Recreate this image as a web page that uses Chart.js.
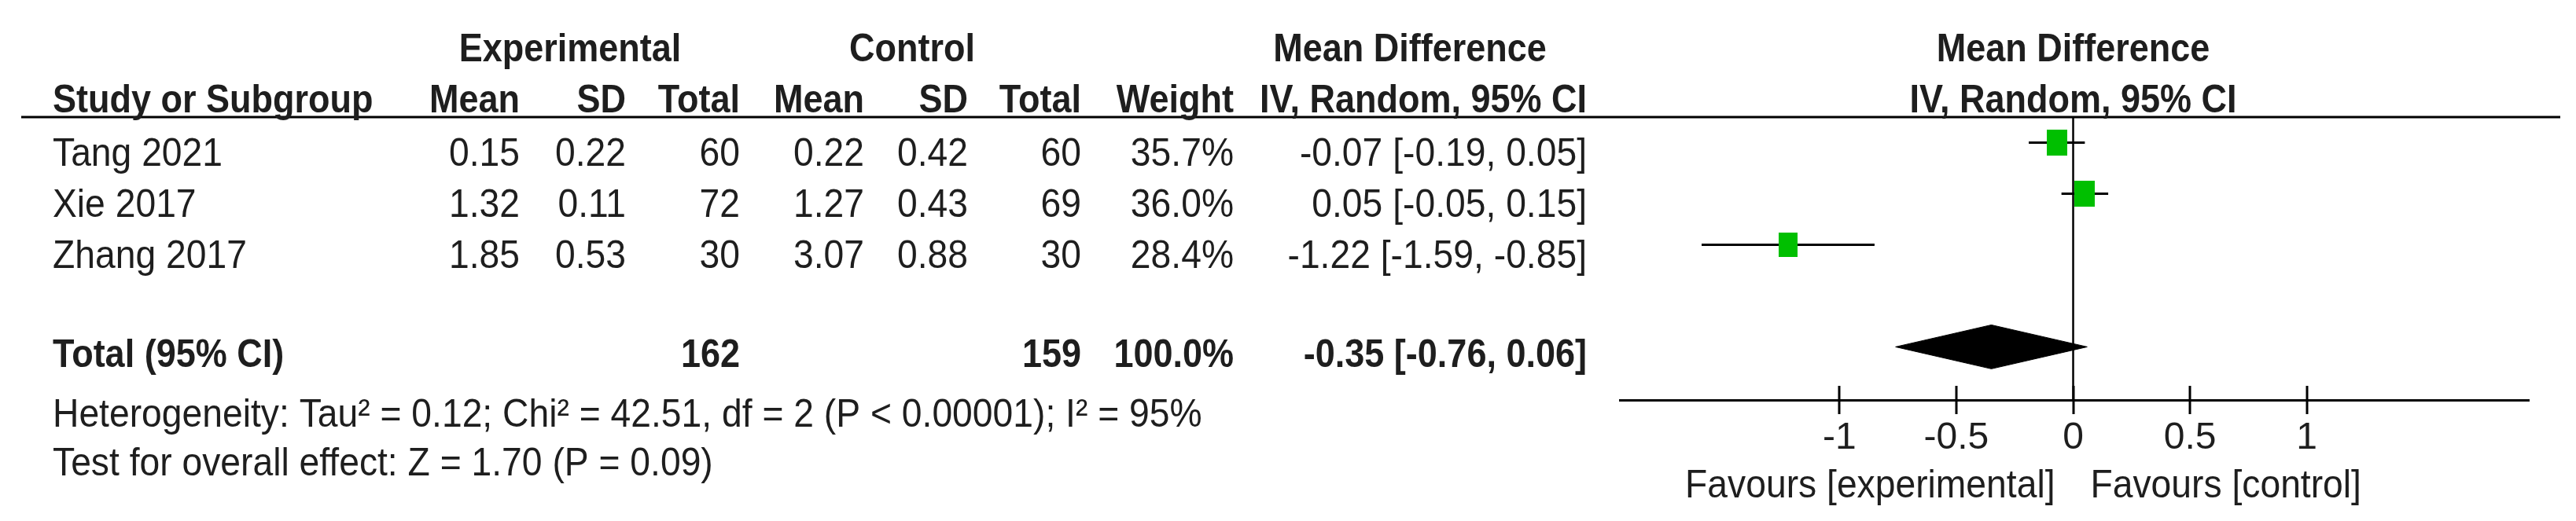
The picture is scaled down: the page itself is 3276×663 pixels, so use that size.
<!DOCTYPE html>
<html>
<head>
<meta charset="utf-8">
<title>Forest plot</title>
<script src="https://cdn.jsdelivr.net/npm/chart.js@4.4.1/dist/chart.umd.min.js"></script>
<style>
    html, body { margin: 0; padding: 0; background: #fff; }
    #wrap { position: relative; width: 3276px; height: 663px; }
</style>
</head>
<body>
<div id="wrap"><canvas id="grafico"></canvas></div>
<script>
// dados dos estudos
const studies = ['Tang 2021', 'Xie 2017', 'Zhang 2017'];
const expMean = [0.15, 1.32, 1.85];
const expSD = [0.22, 0.11, 0.53];
const expTotal = [60, 72, 30];
const ctlMean = [0.22, 1.27, 3.07];
const ctlSD = [0.42, 0.43, 0.88];
const ctlTotal = [60, 69, 30];
const weights = [35.7, 36.0, 28.4];
const meanDiff = [-0.07, 0.05, -1.22];
const ciLow = [-0.19, -0.05, -1.59];
const ciHigh = [0.05, 0.15, -0.85];
const rows = [1, 2, 3];

// linha do total
const totalRow = 5;
const totalExp = 162;
const totalCtl = 159;
const totalWeight = 100.0;
const pooled = -0.35;
const pooledLow = -0.76;
const pooledHigh = 0.06;

const heterogeneity = 'Heterogeneity: Tau\u00b2 = 0.12; Chi\u00b2 = 42.51, df = 2 (P < 0.00001); I\u00b2 = 95%';
const overallEffect = 'Test for overall effect: Z = 1.70 (P = 0.09)';

// eixo
const tickValues = [-1, -0.5, 0, 0.5, 1];
const tickLabels = ['-1', '-0.5', '0', '0.5', '1'];
const xMin = -1.94;
const xMax = 1.95;
const yMin = 0.5;
const yMax = 6.04;
const favoursLeft = 'Favours [experimental]';
const favoursRight = 'Favours [control]';

const TEXT = '#1e1e1e';
const GREEN = '#00bf00';
const FONT = '"Liberation Sans", Arial, sans-serif';

const fmt = v => v.toFixed(2);
const ciText = (m, lo, hi) => fmt(m) + ' [' + fmt(lo) + ', ' + fmt(hi) + ']';

function makeSquare(w) {
    var k = Math.pow(w / 36, 0.3);
    var c = document.createElement('canvas');
    c.width = Math.round(26 * k);
    c.height = Math.round(33 * k);
    var g = c.getContext('2d');
    g.fillStyle = GREEN;
    g.fillRect(0, 0, c.width, c.height);
    return c;
}

// texto um pouco estreito, como no original
function txt(ctx, s, x, y, align, bold) {
    ctx.save();
    ctx.font = (bold ? 'bold ' : '') + '50px ' + FONT;
    ctx.fillStyle = TEXT;
    ctx.textAlign = align;
    ctx.textBaseline = 'alphabetic';
    ctx.translate(x, y);
    ctx.scale(bold ? 0.9 : 0.925, 1);
    ctx.fillText(s, 0, 0);
    ctx.restore();
}

const forestPlugin = {
    id: 'forest',
    beforeDatasetsDraw(chart) {
        const ctx = chart.ctx;
        ctx.save();
        ctx.strokeStyle = '#000';
        ctx.lineWidth = 3;
        ctx.beginPath();
        ctx.moveTo(27, chart.chartArea.top);
        ctx.lineTo(3256, chart.chartArea.top);
        ctx.stroke();
        ctx.restore();
    },
    afterDraw(chart) {
        const ctx = chart.ctx;
        const xs = chart.scales.x;
        const ys = chart.scales.y;
        const x0 = xs.getPixelForValue(0);
        const axisY = chart.chartArea.bottom;

        // marcas do eixo
        ctx.save();
        ctx.strokeStyle = '#000';
        ctx.lineWidth = 3;
        tickValues.forEach(v => {
            const px = Math.round(xs.getPixelForValue(v));
            ctx.beginPath();
            ctx.moveTo(px, axisY - 18);
            ctx.lineTo(px, axisY + 18);
            ctx.stroke();
        });
        ctx.restore();

        // cabecalho
        txt(ctx, 'Experimental', 725, 78, 'center', true);
        txt(ctx, 'Control', 1160, 78, 'center', true);
        txt(ctx, 'Mean Difference', 1793, 78, 'center', true);
        txt(ctx, 'Mean Difference', x0, 78, 'center', true);

        const hy = chart.chartArea.top - 6;
        txt(ctx, 'Study or Subgroup', 67, hy, 'left', true);
        txt(ctx, 'Mean', 661, hy, 'right', true);
        txt(ctx, 'SD', 796, hy, 'right', true);
        txt(ctx, 'Total', 941, hy, 'right', true);
        txt(ctx, 'Mean', 1099, hy, 'right', true);
        txt(ctx, 'SD', 1231, hy, 'right', true);
        txt(ctx, 'Total', 1375, hy, 'right', true);
        txt(ctx, 'Weight', 1569, hy, 'right', true);
        txt(ctx, 'IV, Random, 95% CI', 2018, hy, 'right', true);
        txt(ctx, 'IV, Random, 95% CI', x0, hy, 'center', true);

        // estudos
        for (var i = 0; i < studies.length; i++) {
            var y = ys.getPixelForValue(rows[i]) + 30;
            txt(ctx, studies[i], 67, y, 'left', false);
            txt(ctx, fmt(expMean[i]), 661, y, 'right', false);
            txt(ctx, fmt(expSD[i]), 796, y, 'right', false);
            txt(ctx, String(expTotal[i]), 941, y, 'right', false);
            txt(ctx, fmt(ctlMean[i]), 1099, y, 'right', false);
            txt(ctx, fmt(ctlSD[i]), 1231, y, 'right', false);
            txt(ctx, String(ctlTotal[i]), 1375, y, 'right', false);
            txt(ctx, weights[i].toFixed(1) + '%', 1569, y, 'right', false);
            txt(ctx, ciText(meanDiff[i], ciLow[i], ciHigh[i]), 2018, y, 'right', false);
        }

        // total
        var ty = ys.getPixelForValue(totalRow) + 26;
        txt(ctx, 'Total (95% CI)', 67, ty, 'left', true);
        txt(ctx, String(totalExp), 941, ty, 'right', true);
        txt(ctx, String(totalCtl), 1375, ty, 'right', true);
        txt(ctx, totalWeight.toFixed(1) + '%', 1569, ty, 'right', true);
        txt(ctx, ciText(pooled, pooledLow, pooledHigh), 2018, ty, 'right', true);

        txt(ctx, heterogeneity, 67, 543, 'left', false);
        txt(ctx, overallEffect, 67, 605, 'left', false);

        txt(ctx, favoursLeft, x0 - 23, 633, 'right', false);
        txt(ctx, favoursRight, x0 + 22, 633, 'left', false);
    }
};

const datasets = [];

// quadrados
datasets.push({
    type: 'scatter',
    data: studies.map((s, i) => ({ x: meanDiff[i], y: rows[i] })),
    pointStyle: weights.map(makeSquare),
    pointRadius: 3,
    order: 0
});

// intervalos de confianca
studies.forEach((s, i) => {
    datasets.push({
        type: 'line',
        data: [{ x: ciLow[i], y: rows[i] }, { x: ciHigh[i], y: rows[i] }],
        borderColor: '#000',
        borderWidth: 3,
        pointRadius: 0,
        order: 1
    });
});

// linha do zero
datasets.push({
    type: 'line',
    data: [{ x: 0, y: yMin }, { x: 0, y: yMax }],
    borderColor: '#000',
    borderWidth: 2.5,
    pointRadius: 0,
    order: 2
});

// losango do total
const dh = 0.43;
datasets.push({
    type: 'line',
    data: [
        { x: pooledLow, y: totalRow },
        { x: pooled, y: totalRow - dh },
        { x: pooledHigh, y: totalRow },
        { x: pooled, y: totalRow + dh },
        { x: pooledLow, y: totalRow }
    ],
    borderColor: '#000',
    borderWidth: 1,
    backgroundColor: '#000',
    fill: 'shape',
    tension: 0,
    pointRadius: 0,
    order: 3
});

Chart.defaults.font.family = FONT;

const myChart = new Chart(document.getElementById('grafico'), {
    type: 'scatter',
    data: { datasets: datasets },
    options: {
        responsive: true,
        maintainAspectRatio: false,
        animation: false,
        events: [],
        layout: { padding: { left: 2060, right: 60, top: 149, bottom: 0 } },
        plugins: {
            legend: { display: false },
            tooltip: { enabled: false }
        },
        scales: {
            x: {
                type: 'linear',
                position: 'bottom',
                min: xMin,
                max: xMax,
                afterBuildTicks: s => { s.ticks = tickValues.map(v => ({ value: v })); },
                afterFit: s => { s.height = 154; },
                grid: { display: false, drawTicks: false, tickLength: 0 },
                border: { display: true, color: '#000', width: 3 },
                ticks: {
                    autoSkip: false,
                    maxRotation: 0,
                    padding: 20,
                    color: TEXT,
                    font: { size: 48 },
                    callback: v => tickLabels[tickValues.indexOf(v)]
                }
            },
            y: {
                type: 'linear',
                min: yMin,
                max: yMax,
                reverse: true,
                display: false
            }
        }
    },
    plugins: [forestPlugin]
});
</script>
</body>
</html>
